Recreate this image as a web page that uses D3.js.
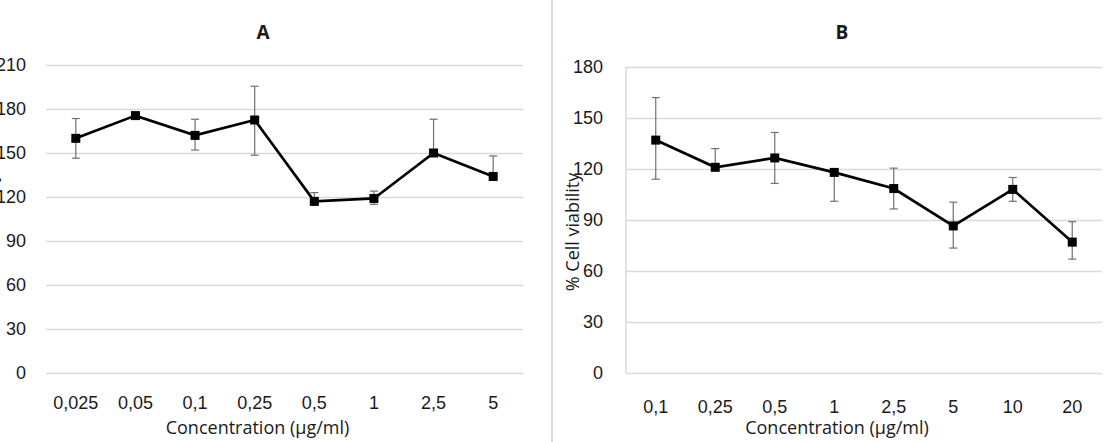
<!DOCTYPE html>
<html>
<head>
<meta charset="utf-8">
<script src="https://cdn.jsdelivr.net/npm/d3@7"></script>
<style>
  body { margin: 0; background: #fff; }
  svg { display: block; font-family: "Open Sans", sans-serif; }
</style>
</head>
<body>
<svg id="chart" width="1107" height="442"></svg>
<script>
// panel A
const catsA = ["0,025", "0,05", "0,1", "0,25", "0,5", "1", "2,5", "5"];
const meanA = [160, 175.5, 162, 172.5, 117, 119, 150, 134];
const errUpA = [13.5, 0, 11, 23, 6, 5, 23, 14];
const errDownA = [13.5, 0, 10, 24, 0, 4, 0, 0];
const ticksA = [0, 30, 60, 90, 120, 150, 180, 210];

// panel B
const catsB = ["0,1", "0,25", "0,5", "1", "2,5", "5", "10", "20"];
const meanB = [137, 121, 126.5, 118, 108.5, 86.5, 108, 77];
const errUpB = [25, 11, 15, 0, 12, 14, 7, 12];
const errDownB = [23, 0, 15, 17, 12, 13, 7, 10];
const ticksB = [0, 30, 60, 90, 120, 150, 180];

const xTitle = "Concentration (µg/ml)";
const yTitle = "% Cell viability";
const fs = 18;

const svg = d3.select("#chart");

// divider between the two chart boxes
svg.append("line")
    .attr("x1", 552).attr("x2", 552)
    .attr("y1", 0).attr("y2", 442)
    .attr("stroke", "#dcdcdc")
    .attr("stroke-width", 2);

function panel({title, cats, mean, up, down, ticks, left, right, top, yPad, xPad, axisLine, titleX, yTitleX}) {
  const bottom = 373;
  const x = d3.scaleBand(cats, [left, right]);
  const y = d3.scaleLinear([0, d3.max(ticks)], [bottom, top]);
  const g = svg.append("g");

  g.append("g")
      .attr("transform", `translate(${left},0)`)
      .call(d3.axisLeft(y).tickValues(ticks).tickSize(-(right - left)).tickPadding(yPad))
      .call(g => g.select(".domain").remove())
      .call(g => g.selectAll(".tick line").attr("stroke", "#d9d9d9").attr("stroke-width", 1.5))
      .call(g => g.selectAll(".tick text").attr("fill", "#1a1a1a").attr("font-size", fs));

  if (axisLine) {
    g.append("line")
        .attr("x1", left).attr("x2", left)
        .attr("y1", top).attr("y2", bottom)
        .attr("stroke", "#d9d9d9").attr("stroke-width", 1.5);
  }

  g.append("g")
      .attr("transform", `translate(0,${bottom})`)
      .call(d3.axisBottom(x).tickSize(0).tickPadding(xPad))
      .call(g => g.select(".domain").remove())
      .call(g => g.selectAll(".tick text").attr("fill", "#1a1a1a").attr("font-size", fs));

  const cx = d => x(d) + x.bandwidth() / 2;

  // error bars
  const eb = g.append("g").attr("stroke", "#707070").attr("stroke-width", 1.2);
  cats.forEach((c, i) => {
    const y0 = y(mean[i] - down[i]), y1 = y(mean[i] + up[i]);
    if (up[i] > 0 || down[i] > 0) {
      eb.append("line").attr("x1", cx(c)).attr("x2", cx(c)).attr("y1", y0).attr("y2", y1);
    }
    if (up[i] > 0) eb.append("line").attr("x1", cx(c) - 4).attr("x2", cx(c) + 4).attr("y1", y1).attr("y2", y1);
    if (down[i] > 0) eb.append("line").attr("x1", cx(c) - 4).attr("x2", cx(c) + 4).attr("y1", y0).attr("y2", y0);
  });

  g.append("path")
      .datum(cats)
      .attr("fill", "none")
      .attr("stroke", "#000")
      .attr("stroke-width", 2.7)
      .attr("d", d3.line().x(cx).y((d, i) => y(mean[i])));

  g.selectAll("rect.mk")
    .data(cats)
    .join("rect")
      .attr("class", "mk")
      .attr("x", d => cx(d) - 4.5)
      .attr("y", (d, i) => y(mean[i]) - 4.5)
      .attr("width", 9)
      .attr("height", 9)
      .attr("fill", "#000");

  g.append("text")
      .attr("x", titleX)
      .attr("y", 39)
      .attr("text-anchor", "middle")
      .attr("font-size", 19)
      .attr("font-weight", "bold")
      .attr("fill", "#1a1a1a")
      .text(title);

  g.append("text")
      .attr("x", (left + right) / 2 - 27)
      .attr("y", 434)
      .attr("text-anchor", "middle")
      .attr("font-size", fs)
      .attr("fill", "#1a1a1a")
      .text(xTitle);

  g.append("text")
      .attr("transform", `translate(${yTitleX},232) rotate(-90)`)
      .attr("text-anchor", "middle")
      .attr("font-size", fs)
      .attr("fill", "#1a1a1a")
      .text(yTitle);
}

panel({title: "A", cats: catsA, mean: meanA, up: errUpA, down: errDownA, ticks: ticksA,
       left: 46, right: 523, top: 65, yPad: 20, xPad: 23, axisLine: false, titleX: 263, yTitleX: -3});
panel({title: "B", cats: catsB, mean: meanB, up: errUpB, down: errDownB, ticks: ticksB,
       left: 626, right: 1102, top: 67, yPad: 23, xPad: 27, axisLine: true, titleX: 842, yTitleX: 579});
</script>
</body>
</html>
